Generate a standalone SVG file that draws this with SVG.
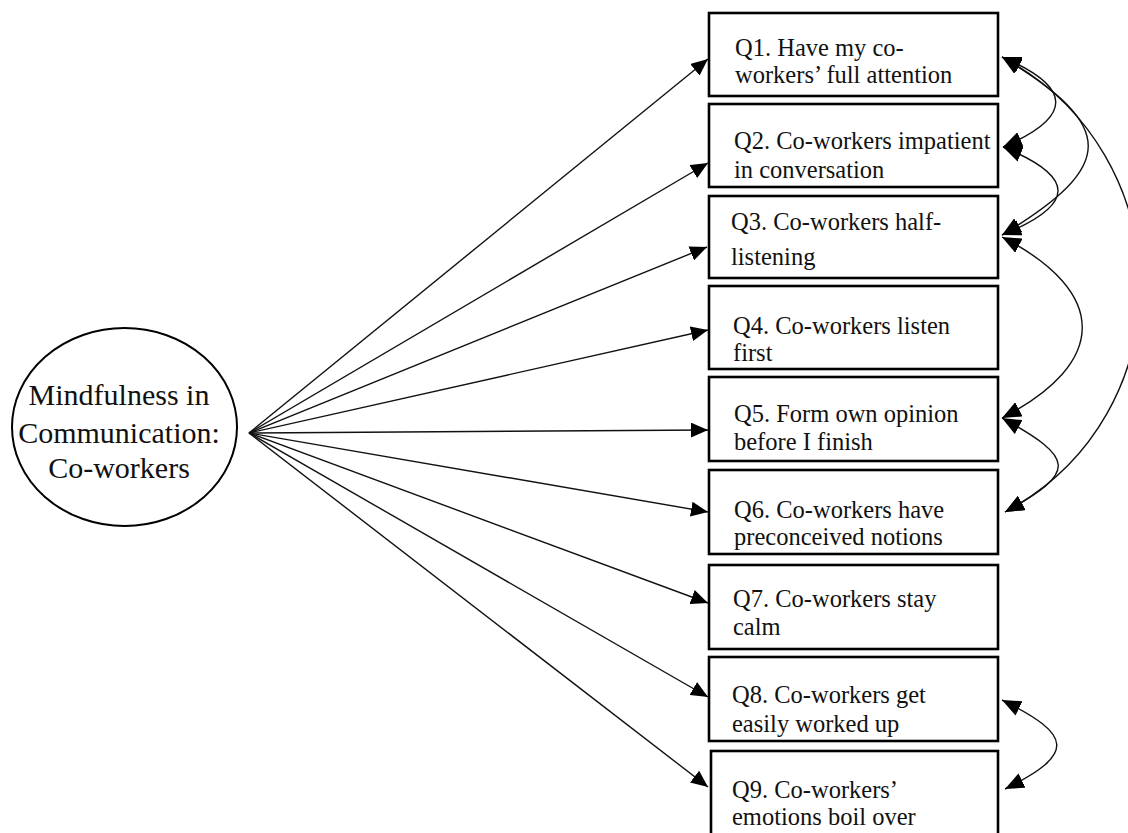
<svg xmlns="http://www.w3.org/2000/svg" width="1128" height="833" viewBox="0 0 1128 833">
<style>
.box{fill:#fff;stroke:#000;stroke-width:2.6}
.lbl{font-family:"Liberation Serif","Times New Roman",serif;font-size:24.5px;fill:#111}
.big{font-family:"Liberation Serif","Times New Roman",serif;font-size:30px;fill:#111;text-anchor:middle}
.ln{fill:none;stroke:#111;stroke-width:1.4}
</style>
<defs>
<marker id="ah" markerWidth="17" markerHeight="15" refX="17" refY="7.5" orient="auto" markerUnits="userSpaceOnUse"><path d="M0,0 L17,7.5 L0,15 z" fill="#000"/></marker>
<marker id="ah2" markerWidth="19" markerHeight="16" refX="19" refY="8" orient="auto-start-reverse" markerUnits="userSpaceOnUse"><path d="M0,0 L19,8 L0,16 z" fill="#000"/></marker>
</defs>
<rect width="1128" height="833" fill="#fff"/>
<g id="latent">
<ellipse cx="124.5" cy="427" rx="112.5" ry="99" fill="#fff" stroke="#000" stroke-width="2"/>
<text class="big" x="119" y="405">Mindfulness in</text>
<text class="big" x="119" y="443">Communication:</text>
<text class="big" x="119" y="478">Co-workers</text>
</g>
<g id="q1"><rect class="box" x="709" y="13" width="289" height="83"/><text class="lbl" x="735" y="56">Q1. Have my co-</text><text class="lbl" x="735" y="83">workers’ full attention</text></g>
<g id="q2"><rect class="box" x="709" y="104" width="289" height="83"/><text class="lbl" x="734" y="149">Q2. Co-workers impatient</text><text class="lbl" x="734" y="178">in conversation</text></g>
<g id="q3"><rect class="box" x="709" y="196" width="289" height="82"/><text class="lbl" x="731" y="230">Q3. Co-workers half-</text><text class="lbl" x="731" y="265">listening</text></g>
<g id="q4"><rect class="box" x="709" y="286" width="289" height="83"/><text class="lbl" x="733" y="334">Q4. Co-workers listen</text><text class="lbl" x="733" y="361">first</text></g>
<g id="q5"><rect class="box" x="709" y="377" width="289" height="84"/><text class="lbl" x="734" y="422">Q5. Form own opinion</text><text class="lbl" x="734" y="450">before I finish</text></g>
<g id="q6"><rect class="box" x="709" y="470" width="289" height="84"/><text class="lbl" x="734" y="518">Q6. Co-workers have</text><text class="lbl" x="734" y="545">preconceived notions</text></g>
<g id="q7"><rect class="box" x="709" y="565" width="289" height="84"/><text class="lbl" x="733" y="607">Q7. Co-workers stay</text><text class="lbl" x="733" y="635">calm</text></g>
<g id="q8"><rect class="box" x="709" y="657" width="289" height="84"/><text class="lbl" x="732" y="703">Q8. Co-workers get</text><text class="lbl" x="732" y="732">easily worked up</text></g>
<g id="q9"><rect class="box" x="711" y="751" width="287" height="92"/><text class="lbl" x="732" y="798">Q9. Co-workers’</text><text class="lbl" x="732" y="825">emotions boil over</text></g>
<g id="connectors">
<line class="ln" x1="249" y1="433" x2="708" y2="59" marker-end="url(#ah)"/>
<line class="ln" x1="249" y1="433" x2="708" y2="163" marker-end="url(#ah)"/>
<line class="ln" x1="249" y1="433" x2="707" y2="247" marker-end="url(#ah)"/>
<line class="ln" x1="249" y1="433" x2="708" y2="330" marker-end="url(#ah)"/>
<line class="ln" x1="249" y1="433" x2="708" y2="430" marker-end="url(#ah)"/>
<line class="ln" x1="249" y1="433" x2="708" y2="512" marker-end="url(#ah)"/>
<line class="ln" x1="249" y1="433" x2="708" y2="603" marker-end="url(#ah)"/>
<line class="ln" x1="249" y1="433" x2="708" y2="697" marker-end="url(#ah)"/>
<line class="ln" x1="249" y1="433" x2="708" y2="787" marker-end="url(#ah)"/>
<path class="ln" d="M1002,57 C1073,87 1074,117 1003,147" marker-start="url(#ah2)" marker-end="url(#ah2)"/>
<path class="ln" d="M1003,147 C1077,177 1076,205 1002,235" marker-start="url(#ah2)" marker-end="url(#ah2)"/>
<path class="ln" d="M1002,57 C1117,126 1117,166 1002,235" marker-start="url(#ah2)" marker-end="url(#ah2)"/>
<path class="ln" d="M1002,57 C1184,154 1187,415 1005,512" marker-start="url(#ah2)" marker-end="url(#ah2)"/>
<path class="ln" d="M1002,237 C1109,292 1109,363 1002,418" marker-start="url(#ah2)" marker-end="url(#ah2)"/>
<path class="ln" d="M1002,418 C1075,458 1078,472 1005,512" marker-start="url(#ah2)" marker-end="url(#ah2)"/>
<path class="ln" d="M1002,700 C1073,735 1076,754 1005,789" marker-start="url(#ah2)" marker-end="url(#ah2)"/>
</g>
</svg>
